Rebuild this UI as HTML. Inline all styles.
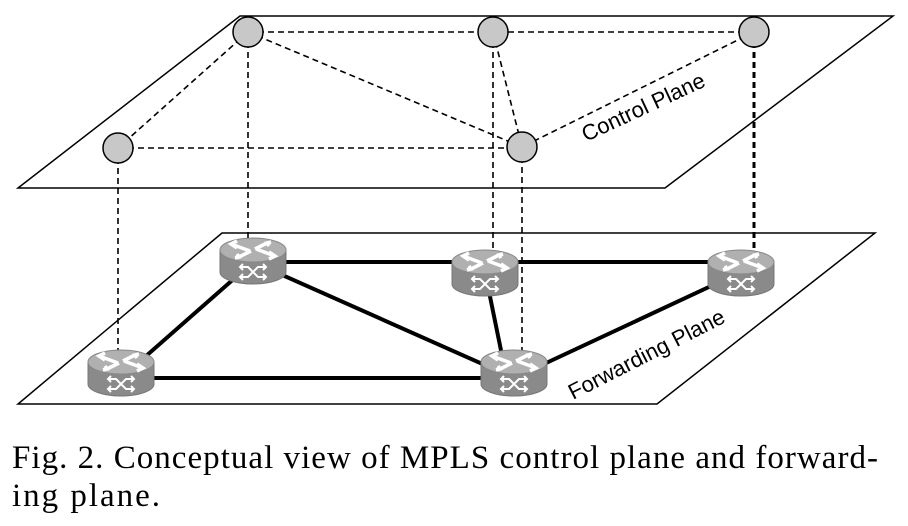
<!DOCTYPE html>
<html><head><meta charset="utf-8"><style>body{margin:0;background:#fff}svg{display:block}</style></head><body>
<svg width="908" height="526" viewBox="0 0 908 526" xmlns="http://www.w3.org/2000/svg">
<defs>
<g id="r">
<path d="M-33,0 L-33,22 A33,12 0 0 0 33,22 L33,0 Z" fill="#8a8a8a" stroke="#777" stroke-width="1"/>
<ellipse cx="0" cy="0" rx="33" ry="12" fill="#b0b0b0" stroke="#888" stroke-width="1"/>
<path d="M-22,-6 L-3,1 M3,-1 L22,6 M-14,7 L-2,1 M2,-1 L14,-7 M-16,-9 L-22,-6 L-16,-2 M16,9 L22,6 L16,2 M-18,8 L-14,7 L-16,4 M18,-8 L14,-7 L16,-4" stroke="#fff" stroke-width="3.5" fill="none"/>
<path d="M-13,17 L-5,17 L5,27 L13,27 M-13,27 L-5,27 L5,17 L13,17 M10,14 L13,17 L10,20 M10,24 L13,27 L10,30 M-10,14 L-13,17 L-10,20 M-10,24 L-13,27 L-10,30" stroke="#fff" stroke-width="2" fill="none"/>
</g>
</defs>
<polygon points="240,16 893,16 665,188 18,188" fill="none" stroke="#000" stroke-width="1.5"/>
<polygon points="222,233 875,233 657,404 18,404" fill="none" stroke="#000" stroke-width="1.5"/>
<g stroke="#000" stroke-width="1.6" stroke-dasharray="6,4" fill="none">
<line x1="248" y1="32" x2="754" y2="32"/>
<line x1="118" y1="148" x2="522" y2="148"/>
<line x1="248" y1="32" x2="118" y2="148"/>
<line x1="248" y1="32" x2="522" y2="147"/>
<line x1="493" y1="32" x2="522" y2="147"/>
<line x1="754" y1="32" x2="522" y2="147"/>
<line x1="118" y1="148" x2="118" y2="362"/>
<line x1="248" y1="32" x2="248" y2="248"/>
<line x1="493" y1="32" x2="493" y2="260"/>
<line x1="522" y1="147" x2="522" y2="362"/>
</g>
<line x1="754" y1="32" x2="754" y2="260" stroke="#000" stroke-width="3" stroke-dasharray="6,4"/>
<g stroke="#000" stroke-width="4">
<line x1="253" y1="262" x2="741" y2="262"/>
<line x1="121" y1="378" x2="514" y2="378"/>
<line x1="253" y1="262" x2="121" y2="378"/>
<line x1="253" y1="262" x2="514" y2="378"/>
<line x1="485" y1="272" x2="505" y2="370"/>
<line x1="741" y1="272" x2="514" y2="378"/>
</g>
<use href="#r" x="253" y="250"/>
<use href="#r" x="485" y="262"/>
<use href="#r" x="741" y="262"/>
<use href="#r" x="121" y="362"/>
<use href="#r" x="514" y="362"/>
<g fill="#c8c8c8" stroke="#000" stroke-width="1.5">
<circle cx="248" cy="32" r="15"/>
<circle cx="493" cy="32" r="15"/>
<circle cx="754" cy="32" r="15"/>
<circle cx="118" cy="148" r="15"/>
<circle cx="522" cy="147" r="15"/>
</g>
<text x="0" y="0" font-family="Liberation Sans, sans-serif" font-size="22" transform="translate(586,142) rotate(-25)">Control Plane</text>
<text x="0" y="0" font-family="Liberation Sans, sans-serif" font-size="22" transform="translate(573,400) rotate(-27)">Forwarding Plane</text>
<text x="12" y="468" font-family="Liberation Serif, serif" font-size="33" textLength="866" lengthAdjust="spacing">Fig. 2. Conceptual view of MPLS control plane and forward-</text>
<text x="12" y="506" font-family="Liberation Serif, serif" font-size="33" textLength="148" lengthAdjust="spacing">ing plane.</text>
</svg>
</body></html>
